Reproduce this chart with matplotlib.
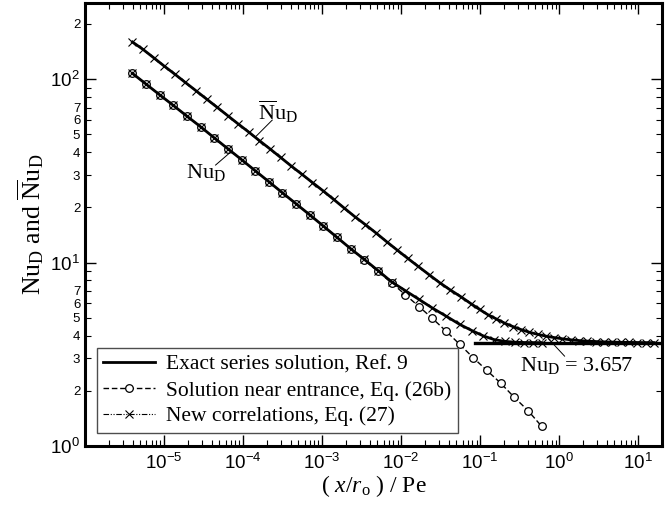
import numpy as np
import matplotlib
matplotlib.use("Agg")
import matplotlib.pyplot as plt
from matplotlib.ticker import FixedLocator, LogLocator, FuncFormatter, LogFormatterSciNotation, NullFormatter

# x-axis: (x/r_o)/Pe ; y-axis: Nusselt number

# Solution near entrance, Eq. (26b)  (circles)
lev_x = [3.98e-6, 5.93e-6, 8.81e-6, 1.31e-5, 1.95e-5, 2.90e-5, 4.33e-5, 6.43e-5,
         9.57e-5, 1.42e-4, 2.12e-4, 3.15e-4, 4.69e-4, 6.98e-4, 1.04e-3, 1.55e-3,
         2.30e-3, 3.42e-3, 5.09e-3, 7.57e-3, 1.13e-2, 1.68e-2, 2.49e-2, 3.72e-2,
         5.52e-2, 8.22e-2, 0.122, 0.182, 0.271, 0.403, 0.600]
lev_nu = [107.5, 93.9, 82.1, 71.9, 62.8, 55.0, 47.8, 41.7, 36.4, 31.7,
          27.6, 24.0, 20.9, 18.2, 15.8, 13.7, 11.9, 10.3, 8.95, 7.75,
          6.68, 5.76, 4.96, 4.22, 3.58, 3.02, 2.58, 2.20, 1.84, 1.56, 1.28]

# local Nu_D (exact series / new correlation)
loc_x = [3.98e-6, 5.93e-6, 8.81e-6, 1.31e-5, 1.95e-5, 2.90e-5, 4.33e-5, 6.43e-5,
         9.57e-5, 1.42e-4, 2.12e-4, 3.15e-4, 4.69e-4, 6.98e-4, 1.04e-3, 1.55e-3,
         2.30e-3, 3.42e-3, 5.09e-3, 7.57e-3, 1.13e-2, 1.68e-2, 2.49e-2, 3.72e-2,
         5.52e-2, 7.94e-2, 0.110, 0.151, 0.204, 0.275, 0.363, 0.468, 0.603]
loc_nu = [107.5, 93.9, 82.1, 71.9, 62.8, 55.0, 47.8, 41.7, 36.4, 31.7,
          27.6, 24.0, 20.9, 18.2, 15.8, 13.7, 11.9, 10.4, 9.05, 7.85,
          7.03, 6.30, 5.65, 5.10, 4.60, 4.25, 3.98, 3.80, 3.72, 3.68,
          3.665, 3.66, 3.657]

# mean Nu_D (exact series / new correlation)
mean_x = [3.98e-6, 5.42e-6, 7.38e-6, 1.00e-5, 1.37e-5, 1.86e-5, 2.54e-5, 3.45e-5,
          4.70e-5, 6.40e-5, 8.71e-5, 1.19e-4, 1.61e-4, 2.20e-4, 2.99e-4, 4.07e-4,
          5.55e-4, 7.55e-4, 1.03e-3, 1.40e-3, 1.91e-3, 2.59e-3, 3.53e-3, 4.81e-3,
          6.55e-3, 8.91e-3, 1.21e-2, 1.65e-2, 2.25e-2, 3.06e-2, 4.17e-2, 5.68e-2,
          7.73e-2, 9.84e-2, 0.125, 0.160, 0.203, 0.259, 0.330, 0.420, 0.535,
          0.681, 0.867, 1.10, 1.41, 1.79, 2.28, 2.90, 3.70, 4.71, 6.00, 7.64,
          9.73, 12.4, 15.8]
mean_nu = [159.5, 145.2, 130.9, 118.0, 106.4, 95.9, 86.4, 77.9, 70.2, 63.2,
           56.9, 51.3, 46.2, 41.6, 37.4, 33.6, 30.3, 27.3, 24.6, 22.1,
           19.8, 17.8, 16.1, 14.5, 13.0, 11.7, 10.55, 9.52, 8.6, 7.78,
           7.1, 6.52, 5.95, 5.55, 5.2, 4.93, 4.68, 4.48, 4.31, 4.17,
           4.06, 3.97, 3.90, 3.84, 3.79, 3.755, 3.73, 3.71, 3.695, 3.685,
           3.675, 3.67, 3.665, 3.66, 3.66]

# fully developed value
asym_x = [0.085, 20]
asym_nu = [3.657, 3.657]

SERIF = "Liberation Serif"
plt.rcParams["font.family"] = "Liberation Sans"
plt.rcParams["mathtext.fontset"] = "custom"
plt.rcParams["mathtext.rm"] = SERIF
plt.rcParams["mathtext.it"] = SERIF + ":italic"
plt.rcParams["axes.unicode_minus"] = False

fig = plt.figure(figsize=(6.69, 5.08), dpi=100)
ax = fig.add_axes([85 / 669, 62 / 508, 577 / 669, 443 / 508])

dashdotdot = (0, (5, 1.5, 1, 1.5, 1, 1.5))

h_lev, = ax.plot(lev_x, lev_nu, color="k", lw=1, dashes=(4, 2), marker="o", ms=5.5,
                 mfc="white", mec="k", mew=0.9, zorder=2)
h_ex, = ax.plot(loc_x, loc_nu, "k-", lw=2, zorder=3)
ax.plot(mean_x, mean_nu, "k-", lw=2, zorder=3)
ax.plot(asym_x, asym_nu, "k-", lw=2.4, zorder=3)
h_new, = ax.plot(loc_x, loc_nu, color="k", lw=0.8, ls=dashdotdot, marker="x", ms=6,
                 mew=0.8, zorder=4)
ax.plot(mean_x, mean_nu, color="k", lw=0.8, ls=dashdotdot, marker="x", ms=6,
        mew=0.8, zorder=4)

ax.set_xscale("log")
ax.set_yscale("log")
ax.set_xlim(1e-6, 20)
ax.set_ylim(1, 260)

ax.xaxis.set_major_locator(FixedLocator([1e-5, 1e-4, 1e-3, 1e-2, 1e-1, 1e0, 1e1]))
ax.xaxis.set_minor_locator(LogLocator(base=10, subs=np.arange(2, 10), numticks=20))
ax.xaxis.set_major_formatter(LogFormatterSciNotation())
ax.xaxis.set_minor_formatter(NullFormatter())

ax.yaxis.set_major_locator(FixedLocator([1, 10, 100]))
ax.yaxis.set_minor_locator(LogLocator(base=10, subs=np.arange(2, 10), numticks=20))
ax.yaxis.set_major_formatter(LogFormatterSciNotation())


def minor_lab(v, pos):
    m = int(round(v / 10 ** np.floor(np.log10(v))))
    return str(m) if 2 <= m <= 7 else ""


ax.yaxis.set_minor_formatter(FuncFormatter(minor_lab))

ax.tick_params(which="both", direction="in", top=True, right=True)
ax.tick_params(which="major", length=8, width=1.0, labelsize=13.5)
ax.tick_params(which="minor", length=4.5, width=0.8, labelsize=9.5)
ax.tick_params(axis="x", which="major", pad=5)
for s in ax.spines.values():
    s.set_linewidth(2.2)

ax.set_xlabel(r"( $x/r_{\mathrm{o}}$ ) / Pe", fontfamily=SERIF, fontsize=17, labelpad=0)
ax.set_ylabel(r"$\mathrm{Nu}_{\mathrm{D}}$ and $\overline{\mathrm{N}}\mathrm{u}_{\mathrm{D}}$",
              fontfamily=SERIF, fontsize=18.5, labelpad=3)

# annotations
ax.text(1.53e-4, 59.8, r"$\overline{\mathrm{N}}\mathrm{u}_{\mathrm{D}}$", fontsize=16,
        ha="left", va="baseline")
ax.plot([2.34e-4, 1.44e-4], [59.8, 48.5], color="k", lw=0.7)
ax.text(1.87e-5, 28.9, r"$\mathrm{Nu}_{\mathrm{D}}$", fontsize=16, ha="left", va="baseline")
ax.plot([4.49e-5, 6.95e-5], [34.0, 40.0], color="k", lw=0.7)
ax.text(0.316, 2.56, r"$\mathrm{Nu}_{\mathrm{D}}$ = 3.657", fontsize=16, ha="left",
        va="baseline", fontfamily=SERIF)
ax.plot([1.17, 0.736], [3.09, 3.83], color="k", lw=0.7)

leg = ax.legend([h_ex, h_lev, h_new],
                ["Exact series solution, Ref. 9",
                 "Solution near entrance, Eq. (26b)",
                 "New correlations, Eq. (27)"],
                loc="upper left", bbox_to_anchor=(0.0208, 0.221), borderaxespad=0,
                prop={"family": SERIF, "size": 15.5}, fancybox=False, framealpha=1,
                edgecolor="0.3", handlelength=2.4, handletextpad=0.5,
                labelspacing=0.27, borderpad=0.3, numpoints=1)
leg.get_frame().set_linewidth(1.0)

fig.savefig("out.png", dpi=100)
